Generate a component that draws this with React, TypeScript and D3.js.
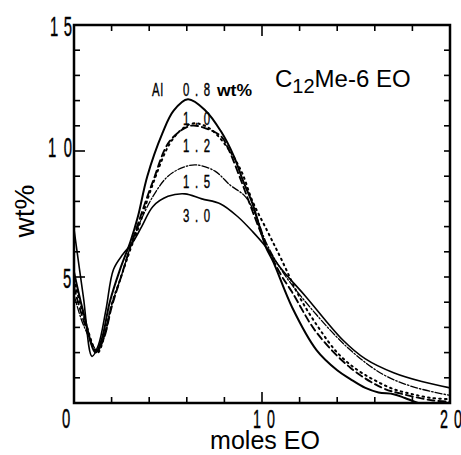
import React from "react";
import * as d3 from "d3";

type P = [number, number];

const series08: P[] = [[0,5.2],[0.5,3.6],[1.15,2.0],[1.5,2.6],[1.9,4.0],[2.45,5.3],[3.0,6.4],[3.4,7.4],[3.9,9.0],[4.7,10.7],[5.3,11.6],[6.06,12.05],[7,11.6],[7.8,10.8],[8.5,9.8],[9.0,8.8],[9.5,7.9],[10.2,6.2],[10.6,5.6],[11.6,3.8],[12.9,2.1],[14,1.3],[14.7,0.95],[15.5,0.6],[16.2,0.42],[17,0.35],[17.6,0.2],[18.3,0.0]];
const series10: P[] = [[0,4.9],[0.5,3.5],[1.25,2.0],[1.6,2.6],[2,3.9],[2.5,5.0],[3,6.1],[3.4,6.9],[4.2,8.7],[5.1,10.3],[5.8,10.9],[6.4,11.1],[7.2,10.9],[8.1,10.2],[8.9,9.2],[9.5,8.0],[10.3,6.8],[11,5.75],[12,4.2],[13,3.0],[14,2.0],[15,1.35],[16,0.9],[17,0.55],[18,0.35],[19,0.2],[20,0.15]];
const series12: P[] = [[0,4.6],[0.5,3.3],[1.2,2.05],[1.6,2.6],[2,3.8],[2.5,5.0],[3,6.2],[3.4,7.1],[4.2,8.8],[5.1,10.4],[6.2,11.0],[7,10.9],[7.8,10.6],[8.2,10.1],[8.9,8.8],[9.5,7.6],[10.2,6.3],[11,5.1],[11.6,4.4],[12.9,2.8],[14.7,1.4],[16.4,0.6],[17.5,0.35],[19.1,0.1],[20,0.05]];
const series15: P[] = [[0,4.3],[0.5,3.1],[1.25,2.1],[1.6,2.7],[2,3.9],[2.5,5.0],[3,6.2],[3.35,6.9],[4.2,8.2],[5,9.0],[5.8,9.35],[6.5,9.45],[7.5,9.2],[8.3,8.65],[9.1,8.2],[9.7,7.4],[10.2,6.4],[11.1,5.2],[12.9,3.5],[14.7,2.1],[16.4,1.15],[18,0.65],[20,0.3]];
const series30: P[] = [[0,6.9],[0.5,4.2],[0.96,1.85],[1.3,2.3],[1.7,3.7],[2.1,5.3],[2.6,5.9],[3.1,6.35],[3.6,7.0],[4.2,7.8],[5,8.2],[5.9,8.3],[6.8,8.1],[7.8,7.9],[8.7,7.4],[9.5,6.8],[10.2,6.2],[11,5.35],[12.3,4.25],[14.3,2.5],[15.5,1.75],[17,1.2],[18.5,0.85],[20,0.6]];

const xMinorTicks = [2, 4, 6, 8, 10, 12, 14, 16, 18];
const yMinorTicks = [1,2,3,4,5,6,7,8,9,10,11,12,13,14];
const yTickLabels = ["5", "10", "15"];
const xTickLabels = ["0", "10", "20"];
const curveLabels = ["0.8", "1.0", "1.2", "1.5", "3.0"];

const W = 461, H = 455;
const x = d3.scaleLinear().domain([0, 20]).range([74, 450]);
const y = d3.scaleLinear().domain([0, 15]).range([403, 25]);

const line = d3.line<P>().x(d => x(d[0])).y(d => y(d[1])).curve(d3.curveCatmullRom.alpha(0.5));

const sans = "'Liberation Sans', Arial, sans-serif";

function NText({ x0, yb, w, fs, sx, text }: { x0: number; yb: number; w: number; fs: number; sx: number; text: string }) {
  return (
    <text
      transform={`scale(${sx},1)`}
      x={x0 / sx}
      y={yb}
      fontSize={fs}
      fontFamily={sans}
      textLength={w / sx}
      lengthAdjust="spacing"
      fill="#000"
      stroke="#000"
      strokeWidth={0.4}
    >
      {text}
    </text>
  );
}

export default function App() {
  const seriesList = [
    { data: series08, dash: "none", sw: 2.0 },
    { data: series10, dash: "1.6 4", sw: 2.0 },
    { data: series12, dash: "7 4", sw: 1.9 },
    { data: series15, dash: "7 2 1.5 2", sw: 1.3 },
    { data: series30, dash: "none", sw: 1.6 },
  ];
  const curveLabelYs = [96, 125, 152, 188, 222];
  return (
    <svg width={W} height={H} style={{ position: "absolute", left: 0, top: 0, background: "#fff" }}>
      <rect width={W} height={H} fill="#fff" />
      {seriesList.map((s, i) => (
        <path key={i} d={line(s.data) || ""} fill="none" stroke="#000" strokeWidth={s.sw}
          strokeDasharray={s.dash === "none" ? undefined : s.dash} strokeLinecap="round" strokeLinejoin="round" />
      ))}
      <rect x={x(0)} y={y(15)} width={x(20) - x(0)} height={y(0) - y(15)} fill="none" stroke="#000" strokeWidth={2.5} />
      {yMinorTicks.map(v => (
        <line key={"l" + v} x1={x(0)} x2={x(0) + (v % 5 === 0 ? 11 : 6)} y1={y(v)} y2={y(v)} stroke="#000" strokeWidth={1.6} />
      ))}
      {yMinorTicks.map(v => (
        <line key={"r" + v} x1={x(20)} x2={x(20) - 6} y1={y(v)} y2={y(v)} stroke="#000" strokeWidth={1.6} />
      ))}
      {xMinorTicks.map(v => (
        <line key={"b" + v} x1={x(v)} x2={x(v)} y1={y(0)} y2={y(0) - (v === 10 ? 11 : 6)} stroke="#000" strokeWidth={1.6} />
      ))}
      {xMinorTicks.map(v => (
        <line key={"t" + v} x1={x(v)} x2={x(v)} y1={y(15)} y2={y(15) + (v === 10 ? 11 : 6)} stroke="#000" strokeWidth={1.6} />
      ))}
      <NText x0={63} yb={y(5) + 11} w={9} fs={27} sx={0.55} text={yTickLabels[0]} />
      <NText x0={48} yb={y(10) + 6} w={24} fs={27} sx={0.55} text={yTickLabels[1]} />
      <NText x0={50} yb={y(15) + 11} w={22} fs={27} sx={0.55} text={yTickLabels[2]} />
      <NText x0={x(0) - 12} yb={428} w={10} fs={27} sx={0.55} text={xTickLabels[0]} />
      <NText x0={x(10) - 9} yb={428} w={22} fs={26} sx={0.55} text={xTickLabels[1]} />
      <NText x0={x(20) - 10} yb={428} w={22} fs={26} sx={0.55} text={xTickLabels[2]} />
      <text x={265} y={449} textAnchor="middle" fontSize={25} fontFamily={sans}>moles EO</text>
      <text transform="translate(34,211) rotate(-90)" textAnchor="middle" fontSize={28} fontFamily={sans}>wt%</text>
      <text x={275} y={87} fontSize={24} fontFamily={sans}>
        C<tspan fontSize={20} dy={6}>12</tspan><tspan dy={-6}>Me-6 EO</tspan>
      </text>
      <NText x0={152} yb={96} w={11} fs={19} sx={0.6} text="Al" />
      <NText x0={183} yb={96} w={27} fs={19} sx={0.6} text={curveLabels[0]} />
      <text x={217} y={96} fontSize={16} fontWeight="bold" fontFamily={sans} textLength={35} lengthAdjust="spacingAndGlyphs">wt%</text>
      {curveLabels.slice(1).map((c, i) => (
        <NText key={c} x0={183} yb={curveLabelYs[i + 1]} w={27} fs={19} sx={0.6} text={c} />
      ))}
    </svg>
  );
}
